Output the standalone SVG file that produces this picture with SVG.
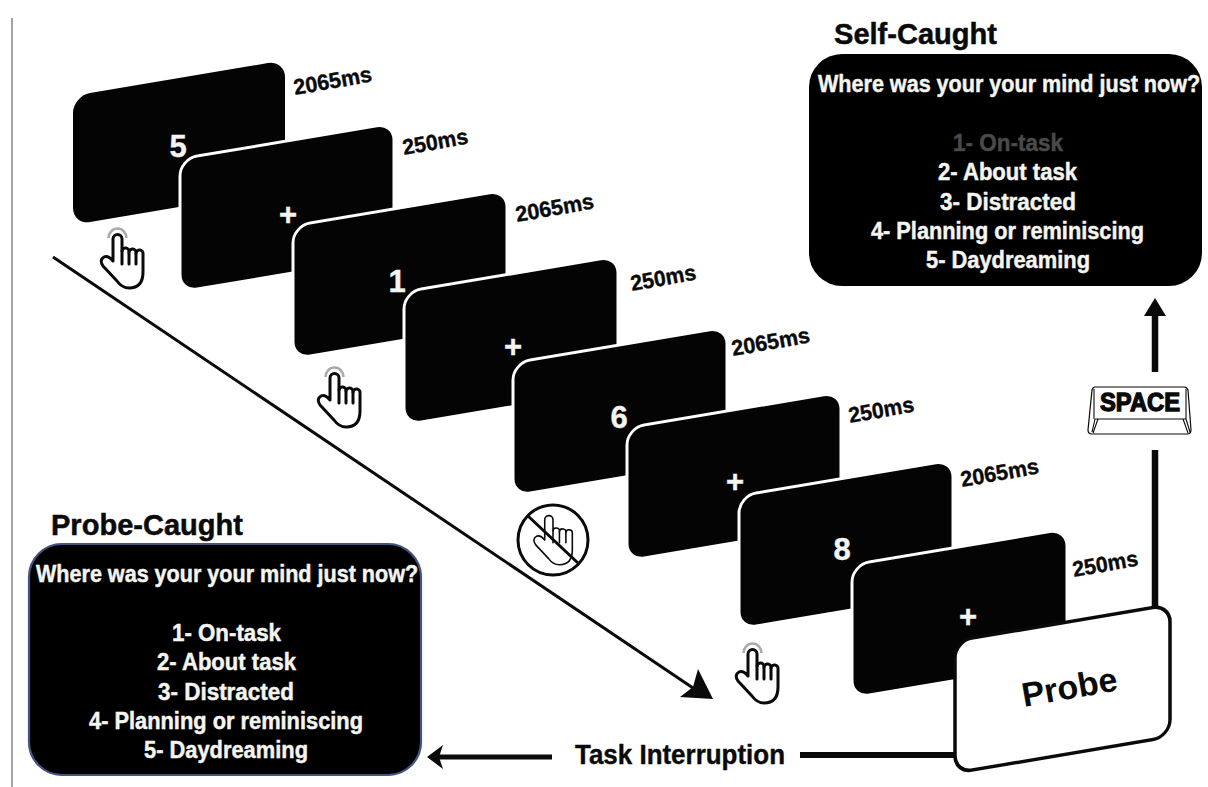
<svg xmlns="http://www.w3.org/2000/svg" xmlns:xlink="http://www.w3.org/1999/xlink" width="1208" height="787" viewBox="0 0 1208 787">
<style>
text{font-family:"Liberation Sans",Arial,sans-serif;font-weight:700}
.card{fill:#040405;stroke:#fff;stroke-width:3}
.d{fill:#f4f4f0;font-size:31px;text-anchor:middle;stroke:#f4f4f0;stroke-width:.4}
.t{fill:#0a0a0a;font-size:22px;stroke:#0a0a0a;stroke-width:.4}
.q{fill:#f5f5f0;font-size:23px;stroke:#f5f5f0;stroke-width:.45}
.h{fill:#0a0a0a;font-size:30px;stroke:#0a0a0a;stroke-width:.5}
.hand{fill:#fff;stroke:#0a0a0a;stroke-linejoin:round}
.fl{fill:none;stroke:#0a0a0a;stroke-linecap:round}
.halo{fill:none;stroke:#aaa;stroke-width:2.6}
.ln{stroke:#0a0a0a;fill:none}
</style>
<defs>
<g id="handShape">
<path class="hand" d="M113 239a4.5 4.5 0 0 1 9 0V251a3.5 3.5 0 0 1 7 1a3.5 3.5 0 0 1 7 1a3.5 3.5 0 0 1 7 1V272Q143 288 129 288Q122 288 117 281L103 266Q99 260 104 257Q108 255 113 261Z"/>
<path class="fl" d="M122 251V264M129 252V264M136 253V264"/>
</g>
<g id="tapHand" stroke-width="3"><path class="halo" d="M108.500 238a9 9.500 0 0 1 18 0"/><use xlink:href="#handShape"/></g>
</defs>
<rect width="1208" height="787" fill="#fff"/>
<path d="M12 18V787" stroke="#666" stroke-width="1.2" fill="none"/>
<g id="connectors">
<path class="ln" stroke-width="3" d="M53 257L696 690"/>
<path fill="#0a0a0a" d="M713 699L698 669L693 687L680 697Z"/>
<path class="ln" stroke-width="6.5" d="M1155 606V450M1155 372V312"/>
<path fill="#0a0a0a" d="M1155 298L1166 316H1144Z"/>
<path class="ln" stroke-width="6" d="M955 755H800"/>
<path class="ln" stroke-width="5" d="M552 757H438"/>
<path fill="#0a0a0a" d="M427 757L443 745L439 757L443 769Z"/>
</g>
<g id="card-1"><rect class="card" x="0" y="0" width="212" height="129" rx="17" transform="translate(73 96) skewY(-9.600)" style="stroke:none"/><text class="d" x="178" y="157">5</text></g>
<g id="label-1"><text class="t" transform="translate(295 95) rotate(-10)" textLength="79" lengthAdjust="spacingAndGlyphs">2065ms</text></g>
<g id="card-2"><rect class="card" width="214" height="133" rx="17" transform="translate(180 159) skewY(-9.600)"/><text class="d" x="288" y="225">+</text></g>
<g id="label-2"><text class="t" transform="translate(404 155) rotate(-10)" textLength="66" lengthAdjust="spacingAndGlyphs">250ms</text></g>
<g id="card-3"><rect class="card" width="214" height="133" rx="17" transform="translate(293 226) skewY(-9.600)"/><text class="d" x="397" y="292">1</text></g>
<g id="label-3"><text class="t" transform="translate(517 222) rotate(-10)" textLength="79" lengthAdjust="spacingAndGlyphs">2065ms</text></g>
<g id="card-4"><rect class="card" width="214" height="133" rx="17" transform="translate(404 292) skewY(-9.600)"/><text class="d" x="513" y="357">+</text></g>
<g id="label-4"><text class="t" transform="translate(632 291) rotate(-10)" textLength="66" lengthAdjust="spacingAndGlyphs">250ms</text></g>
<g id="card-5"><rect class="card" width="214" height="133" rx="17" transform="translate(513 363) skewY(-9.600)"/><text class="d" x="619" y="428">6</text></g>
<g id="label-5"><text class="t" transform="translate(733 356) rotate(-10)" textLength="79" lengthAdjust="spacingAndGlyphs">2065ms</text></g>
<g id="card-6"><rect class="card" width="214" height="133" rx="17" transform="translate(627 428) skewY(-9.600)"/><text class="d" x="735" y="492">+</text></g>
<g id="label-6"><text class="t" transform="translate(850 423) rotate(-10)" textLength="66" lengthAdjust="spacingAndGlyphs">250ms</text></g>
<g id="card-7"><rect class="card" width="214" height="133" rx="17" transform="translate(739 496) skewY(-9.600)"/><text class="d" x="842" y="560">8</text></g>
<g id="label-7"><text class="t" transform="translate(962 487) rotate(-10)" textLength="79" lengthAdjust="spacingAndGlyphs">2065ms</text></g>
<g id="card-8"><rect class="card" width="215" height="133" rx="17" transform="translate(852 565) skewY(-9.600)"/><text class="d" x="968" y="627">+</text></g>
<g id="label-8"><text class="t" transform="translate(1074 577) rotate(-10)" textLength="66" lengthAdjust="spacingAndGlyphs">250ms</text></g>
<g id="probe"><rect width="215" height="132" rx="17" fill="#fff" stroke="#0a0a0a" stroke-width="3.500" transform="translate(955 641) skewY(-9.600)"/><text transform="translate(1024 707) rotate(-10)" fill="#0a0a0a" font-size="34">Probe</text></g>
<use id="hand-1" xlink:href="#tapHand"/>
<use id="hand-2" xlink:href="#tapHand" x="217" y="139"/>
<use id="hand-3" xlink:href="#tapHand" x="635" y="415"/>
<g id="no-hand">
<g transform="translate(553 540) scale(.92) translate(-122 -261)" stroke-width="1.700"><use xlink:href="#handShape"/></g>
<circle cx="553" cy="540" r="35" fill="none" stroke="#0a0a0a" stroke-width="3"/>
<path d="M528 516L578 563" stroke="#0a0a0a" stroke-width="3"/>
</g>
<g id="space-key">
<path d="M1095 387H1184Q1187 387 1188 390L1191 430Q1191 434 1187 434H1092Q1088 434 1088 430L1092 390Q1093 387 1095 387Z" fill="#fff" stroke="#0a0a0a" stroke-width="1.200"/>
<path d="M1095 419H1186M1095 419L1092 432M1098 419L1093 433M1186 419L1190 432M1183 419L1188 433M1094 389V419M1186 389V419" fill="none" stroke="#0a0a0a" stroke-width="1.100"/>
<text x="1100" y="411" font-size="25" fill="#0a0a0a" stroke="#0a0a0a" stroke-width="1.300" textLength="80" lengthAdjust="spacingAndGlyphs">SPACE</text>
</g>
<g id="task-interruption"><text x="575" y="764" font-size="27" fill="#0a0a0a" stroke="#0a0a0a" stroke-width=".4" textLength="210" lengthAdjust="spacingAndGlyphs">Task Interruption</text></g>
<g id="probe-caught">
<text class="h" x="51" y="535" textLength="192" lengthAdjust="spacingAndGlyphs">Probe-Caught</text>
<rect x="29" y="544" width="392" height="231" rx="33" fill="#000" stroke="#555" stroke-width="2.200"/>
<rect x="29" y="544" width="392" height="231" rx="33" fill="none" stroke="#3b52a6" stroke-width="1.200"/>
<text class="q" transform="translate(36 582) scale(.938 1)">Where was your your mind just now?</text>
<text class="q" x="172" y="641" textLength="109" lengthAdjust="spacingAndGlyphs">1- On-task</text>
<text class="q" x="157" y="670" textLength="139" lengthAdjust="spacingAndGlyphs">2- About task</text>
<text class="q" x="158" y="700" textLength="136" lengthAdjust="spacingAndGlyphs">3- Distracted</text>
<text class="q" x="89" y="729" textLength="274" lengthAdjust="spacingAndGlyphs">4- Planning or reminiscing</text>
<text class="q" x="144" y="758" textLength="164" lengthAdjust="spacingAndGlyphs">5- Daydreaming</text>
</g>
<g id="self-caught">
<text class="h" x="834" y="44" textLength="163" lengthAdjust="spacingAndGlyphs">Self-Caught</text>
<rect x="809" y="54" width="393" height="232" rx="33" fill="#000"/>
<text class="q" transform="translate(818 92) scale(.938 1)">Where was your your mind just now?</text>
<text class="q" style="fill:#4a4a4a;stroke:#4a4a4a" x="953" y="151" textLength="110" lengthAdjust="spacingAndGlyphs">1- On-task</text>
<text class="q" x="938" y="180" textLength="139" lengthAdjust="spacingAndGlyphs">2- About task</text>
<text class="q" x="940" y="210" textLength="136" lengthAdjust="spacingAndGlyphs">3- Distracted</text>
<text class="q" x="871" y="239" textLength="273" lengthAdjust="spacingAndGlyphs">4- Planning or reminiscing</text>
<text class="q" x="926" y="268" textLength="164" lengthAdjust="spacingAndGlyphs">5- Daydreaming</text>
</g>
</svg>
